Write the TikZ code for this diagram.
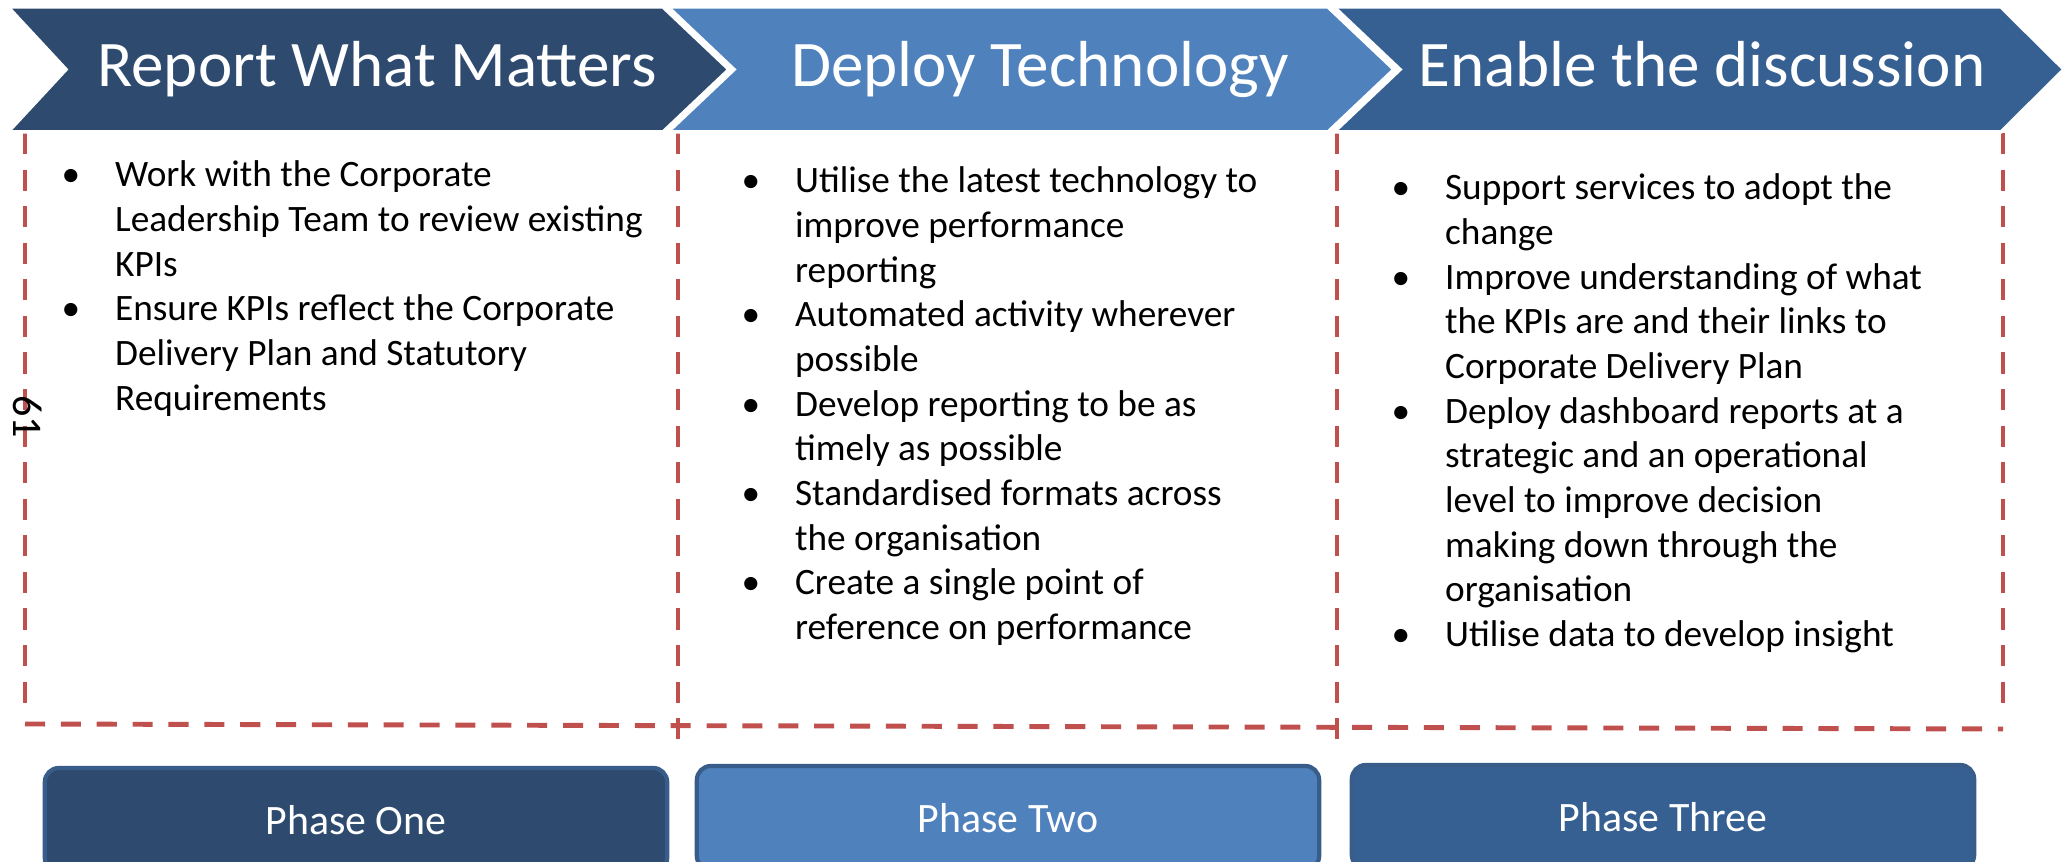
\documentclass[tikz,border=0pt]{standalone}
\usepackage{fontspec}
\setmainfont{Carlito}
\definecolor{darkblue}{HTML}{2E4B6F}
\definecolor{midblue}{HTML}{4F81BD}
\definecolor{deepblue}{HTML}{376092}
\definecolor{edgeblue}{HTML}{385D8A}
\definecolor{dashred}{HTML}{C0504D}
\newcommand{\bul}{\textbullet}
\begin{document}
\begin{tikzpicture}[x=0.01cm,y=-0.01cm,
        chevron/.style={draw=white,line width=1pt},
        heading/.style={anchor=base,inner sep=0pt,text=white,font=\fontsize{18.5}{22}\selectfont},
        bullets/.style={anchor=base west,inner sep=0pt,font=\fontsize{10.6}{12.7}\selectfont},
        phase/.style={draw=edgeblue,line width=1.2pt,rounded corners=4pt,minimum width=6.22cm,minimum height=1.04cm,text=white,font=\fontsize{11.9}{14}\selectfont},
        column/.style={draw=dashred,line width=1.15pt,dash pattern=on 6pt off 4.4pt},
        baseline/.style={draw=dashred,line width=1.4pt,dash pattern=on 5.7pt off 4.5pt}]
        \clip (0,0) rectangle (2069,862);

        \draw[column] (25,133) -- (25,712);
        \draw[column] (678,133) -- (678,743);
        \draw[column] (1337,133) -- (1337,743);
        \draw[column] (2003,133) -- (2003,712);
        \draw[baseline] (25,724) -- (2003,729);

        \draw[chevron,fill=darkblue] (8,7) -- (663,7) -- (729,69.5) -- (663,132) -- (8,132) -- (66,69.5) -- cycle;
        \draw[chevron,fill=midblue] (668,7) -- (1328,7) -- (1394,69.5) -- (1328,132) -- (668,132) -- (734,69.5) -- cycle;
        \draw[chevron,fill=deepblue] (1334,7) -- (2001,7) -- (2064,69.5) -- (2001,132) -- (1334,132) -- (1400,69.5) -- cycle;

        \node[heading] (h1) at (377,87) {Report What Matters};
        \node[heading] (h2) at (1040,87) {Deploy Technology};
        \node[heading] (h3) at (1702,87) {Enable the discussion};

        \node[bullets] (b1) at (61,187) {\begin{tabular}[t]{@{}p{15.2pt}@{}l@{}}
            \bul & Work with the Corporate\\
            & Leadership Team to review existing\\
            & KPIs\\
            \bul & Ensure KPIs reflect the Corporate\\
            & Delivery Plan and Statutory\\
            & Requirements
        \end{tabular}};
        \node[bullets] (b2) at (741,193) {\begin{tabular}[t]{@{}p{15.2pt}@{}l@{}}
            \bul & Utilise the latest technology to\\
            & improve performance\\
            & reporting\\
            \bul & Automated activity wherever\\
            & possible\\
            \bul & Develop reporting to be as\\
            & timely as possible\\
            \bul & Standardised formats across\\
            & the organisation\\
            \bul & Create a single point of\\
            & reference on performance
        \end{tabular}};
        \node[bullets] (b3) at (1391,200) {\begin{tabular}[t]{@{}p{15.2pt}@{}l@{}}
            \bul & Support services to adopt the\\
            & change\\
            \bul & Improve understanding of what\\
            & the KPIs are and their links to\\
            & Corporate Delivery Plan\\
            \bul & Deploy dashboard reports at a\\
            & strategic and an operational\\
            & level to improve decision\\
            & making down through the\\
            & organisation\\
            \bul & Utilise data to develop insight
        \end{tabular}};

        \node[rotate=-90,inner sep=0pt,font=\fontsize{12}{14}\selectfont] (pg) at (28,417) {61};

        \node[phase,fill=darkblue] (p1) at (356,820) {Phase One};
        \node[phase,fill=midblue] (p2) at (1008,818) {Phase Two};
        \node[phase,fill=deepblue] (p3) at (1663,817) {Phase Three};
\end{tikzpicture}
\end{document}
